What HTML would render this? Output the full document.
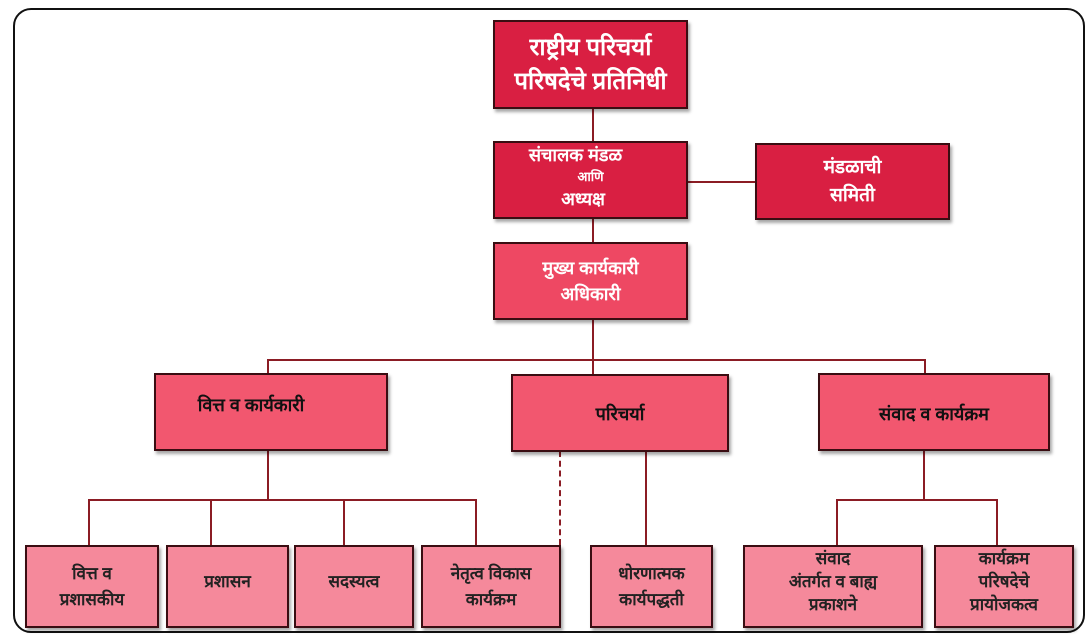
<!DOCTYPE html>
<html><head><meta charset="utf-8"><style>
body{margin:0;width:1089px;height:638px;background:#fff;position:relative;overflow:hidden;font-family:"Liberation Sans","Noto Sans CJK SC",sans-serif;font-weight:bold}
.frame{position:absolute;left:13px;top:8px;width:1068px;height:621px;border:2.5px solid #111;border-radius:18px}
.b{position:absolute;box-sizing:border-box;border:2px solid #3a0d12;display:flex;flex-direction:column;align-items:center;justify-content:center;text-align:center;color:#fff;box-shadow:2px 3px 3px rgba(0,0,0,.35)}
.d{background:#d91f42}.m{background:#ee4863}.l{background:#f2576f}.p{background:#f5899b;color:#222;font-size:17px;line-height:26px}
.h{position:absolute;background:#8b1c24}
</style></head><body>
<div class="frame"></div>
<div class="h" style="left:592px;top:108px;width:2px;height:135px"></div>
<div class="h" style="left:687px;top:181px;width:68px;height:2px"></div>
<div class="h" style="left:592px;top:319px;width:2px;height:42px"></div>
<div class="h" style="left:267px;top:359px;width:659px;height:2px"></div>
<div class="h" style="left:267px;top:359px;width:2px;height:15px"></div>
<div class="h" style="left:924px;top:359px;width:2px;height:15px"></div>
<div class="h" style="left:592px;top:359px;width:2px;height:15px"></div>
<div class="h" style="left:267px;top:450px;width:2px;height:51px"></div>
<div class="h" style="left:88px;top:499px;width:389px;height:2px"></div>
<div class="h" style="left:88px;top:499px;width:2px;height:47px"></div>
<div class="h" style="left:210px;top:499px;width:2px;height:47px"></div>
<div class="h" style="left:343px;top:499px;width:2px;height:47px"></div>
<div class="h" style="left:475px;top:499px;width:2px;height:47px"></div>
<div style="position:absolute;left:559px;top:451px;height:94px;border-left:2px dashed #8b1c24"></div>
<div class="h" style="left:645px;top:451px;width:2px;height:95px"></div>
<div class="h" style="left:923px;top:450px;width:2px;height:51px"></div>
<div class="h" style="left:836px;top:499px;width:162px;height:2px"></div>
<div class="h" style="left:836px;top:499px;width:2px;height:47px"></div>
<div class="h" style="left:996px;top:499px;width:2px;height:47px"></div>

<div class="b d" style="left:493px;top:20px;width:195px;height:89px;font-size:24px;line-height:34px">राष्ट्रीय परिचर्या<br>परिषदेचे प्रतिनिधी</div>
<div class="b d" style="left:493px;top:141px;width:195px;height:78px;font-size:18px;line-height:24px;justify-content:flex-start"><span style="margin-left:-30px">संचालक मंडळ</span><span style="font-size:13px;line-height:20px">आणि</span><span style="margin-left:-15px">अध्यक्ष</span></div>
<div class="b d" style="left:755px;top:143px;width:195px;height:77px;font-size:19px;line-height:28px">मंडळाची<br>समिती</div>
<div class="b m" style="left:493px;top:242px;width:195px;height:78px;font-size:18px;line-height:26px">मुख्य कार्यकारी<br>अधिकारी</div>
<div class="b l" style="left:154px;top:373px;width:234px;height:78px;font-size:18px;color:#111"><span style="margin-left:-40px;margin-top:-14px">वित्त व कार्यकारी</span></div>
<div class="b l" style="left:511px;top:374px;width:218px;height:78px;font-size:18px;color:#111;justify-content:flex-start;padding-top:26px">परिचर्या</div>
<div class="b l" style="left:818px;top:373px;width:232px;height:78px;font-size:18px;color:#111;justify-content:flex-start;padding-top:27px">संवाद व कार्यक्रम</div>
<div class="b p" style="left:25px;top:545px;width:134px;height:83px">वित्त व<br>प्रशासकीय</div>
<div class="b p" style="left:166px;top:545px;width:123px;height:83px;justify-content:flex-start;padding-top:22px">प्रशासन</div>
<div class="b p" style="left:294px;top:545px;width:120px;height:83px;justify-content:flex-start;padding-top:22px">सदस्यत्व</div>
<div class="b p" style="left:421px;top:545px;width:140px;height:83px;justify-content:flex-start;padding-top:14px">नेतृत्व विकास<br>कार्यक्रम</div>
<div class="b p" style="left:590px;top:545px;width:123px;height:83px">धोरणात्मक<br>कार्यपद्धती</div>
<div class="b p" style="left:743px;top:545px;width:180px;height:83px;justify-content:flex-start;line-height:23px;padding-top:0">संवाद<br>अंतर्गत व बाह्य<br>प्रकाशने</div>
<div class="b p" style="left:934px;top:545px;width:140px;height:83px;justify-content:flex-start;line-height:23px;padding-top:0">कार्यक्रम<br>परिषदेचे<br>प्रायोजकत्व</div>
</body></html>
